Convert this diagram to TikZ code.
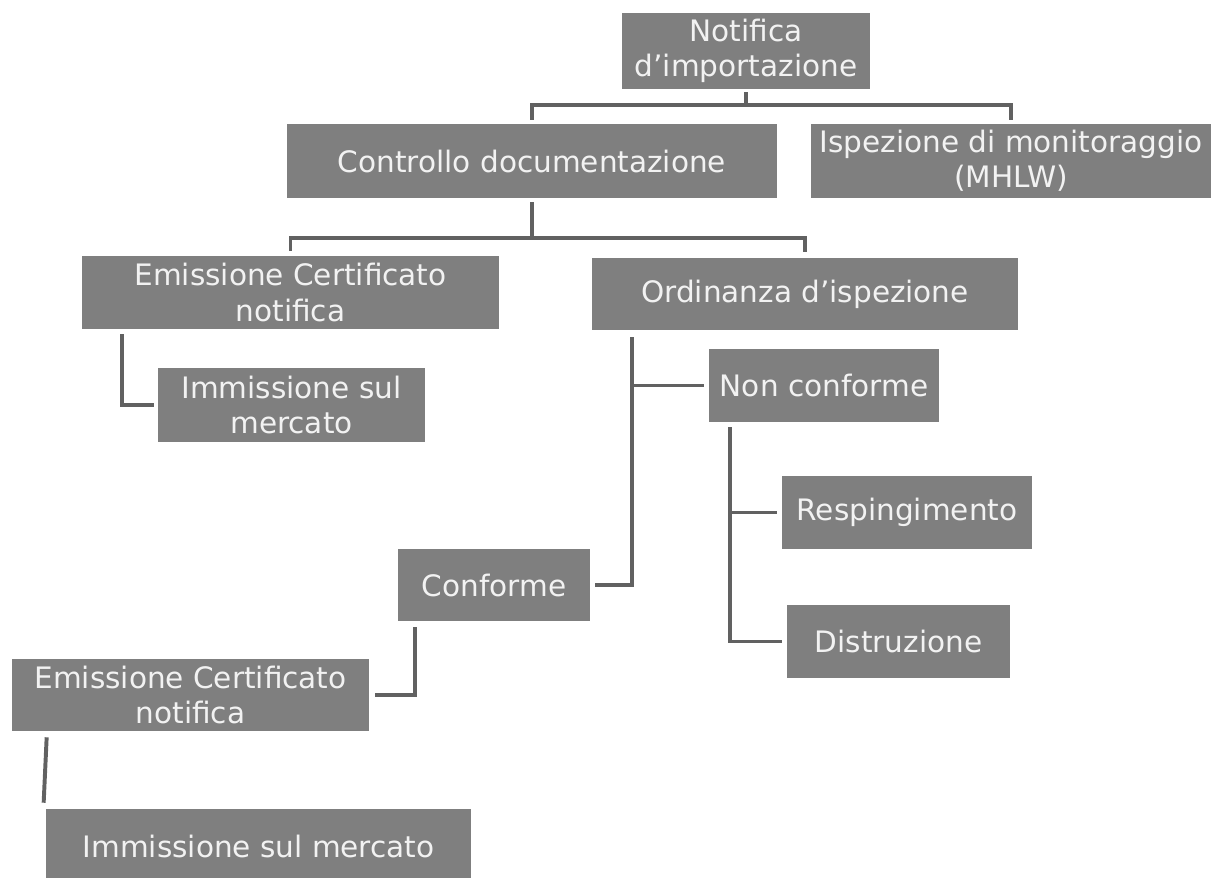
\documentclass[tikz,border=0pt]{standalone}
\usepackage{fontspec}
\setmainfont{DejaVu Sans}
\usepackage{xcolor}
\usetikzlibrary{positioning,calc}
\definecolor{boxfill}{HTML}{7F7F7F}
\definecolor{boxtext}{HTML}{F2F2F2}
\definecolor{linkgray}{HTML}{616161}

\begin{document}
\begin{tikzpicture}[x=0.025cm, y=-0.025cm,
  box/.style={fill=boxfill, text=boxtext, align=center, inner sep=0pt,
    minimum height=1.825cm, font=\fontsize{21}{25}\selectfont},
  link/.style={draw=linkgray, line width=2.8pt}]
  \useasboundingbox (0,0) rectangle (1214,877);
  \clip (0,0) rectangle (1214,877);
  % top levels
  \node[box, minimum width=6.2cm, minimum height=1.9cm] (notif) at (746,51) {Notifica\\d’importazione};
  \node[box, minimum width=12.25cm, minimum height=1.85cm] (ctrl) at (532,161) {Controllo documentazione};
  \node[box, minimum width=10cm, minimum height=1.85cm] (isp) at (1011,161) {Ispezione di monitoraggio\\(MHLW)};
  \node[box, minimum width=10.425cm] (emis1) at (290.5,292.5) {Emissione Certificato\\notifica};
  \node[box, minimum width=10.65cm, minimum height=1.8cm] (ord) at (805,294) {Ordinanza d’ispezione};
  \node[box, minimum width=6.675cm, minimum height=1.85cm] (imm1) at (291.5,405) {Immissione sul\\mercato};
  % inspection outcome
  \node[box, minimum width=5.75cm] (nonc) at (824,385.5) {Non conforme};
  \node[box, minimum width=6.25cm] (resp) at (907,512.5) {Respingimento};
  \node[box, minimum width=5.575cm] (distr) at (898.5,641.5) {Distruzione};
  \node[box, minimum width=4.8cm, minimum height=1.8cm] (conf) at (494,585) {Conforme};
  \node[box, minimum width=8.925cm, minimum height=1.8cm] (emis2) at (190.5,695) {Emissione Certificato\\notifica};
  \node[box, minimum width=10.625cm, minimum height=1.85cm] (imm2) at (258.5,846) {Immissione sul mercato};
  % connectors
  \draw[link] ($(notif.south)+(0,3)$) -- ++(0,13) coordinate (t1);
  \draw[link] ($(ctrl.north)+(0,-4)$) |- (t1) -| ($(isp.north)+(0,-4)$);
  \draw[link] ($(ctrl.south)+(0,4)$) -- ++(0,36) coordinate (t2);
  \draw[link] ($(emis1.north)+(0,-5)$) |- (t2) -| ($(ord.north)+(0,-6)$);
  \draw[link] ($(emis1.south west)+(40,5)$) |- ($(imm1.west)+(-4,0)$);
  \draw[link] ($(ord.south west)+(40,7)$) coordinate (o1) |- ($(conf.east)+(5,0)$);
  \draw[link] (o1 |- nonc.west) -- ($(nonc.west)+(-5,0)$);
  \draw[link] ($(nonc.south west)+(21,5)$) coordinate (n1) |- ($(distr.west)+(-5,0)$);
  \draw[link] (n1 |- resp.west) -- ($(resp.west)+(-5,0)$);
  \draw[link] ($(conf.south west)+(17,6)$) |- ($(emis2.east)+(6,0)$);
  \draw[link] ($(emis2.south west)+(35,6)$) -- ($(imm2.north west)+(-2,-6)$);
\end{tikzpicture}
\end{document}
